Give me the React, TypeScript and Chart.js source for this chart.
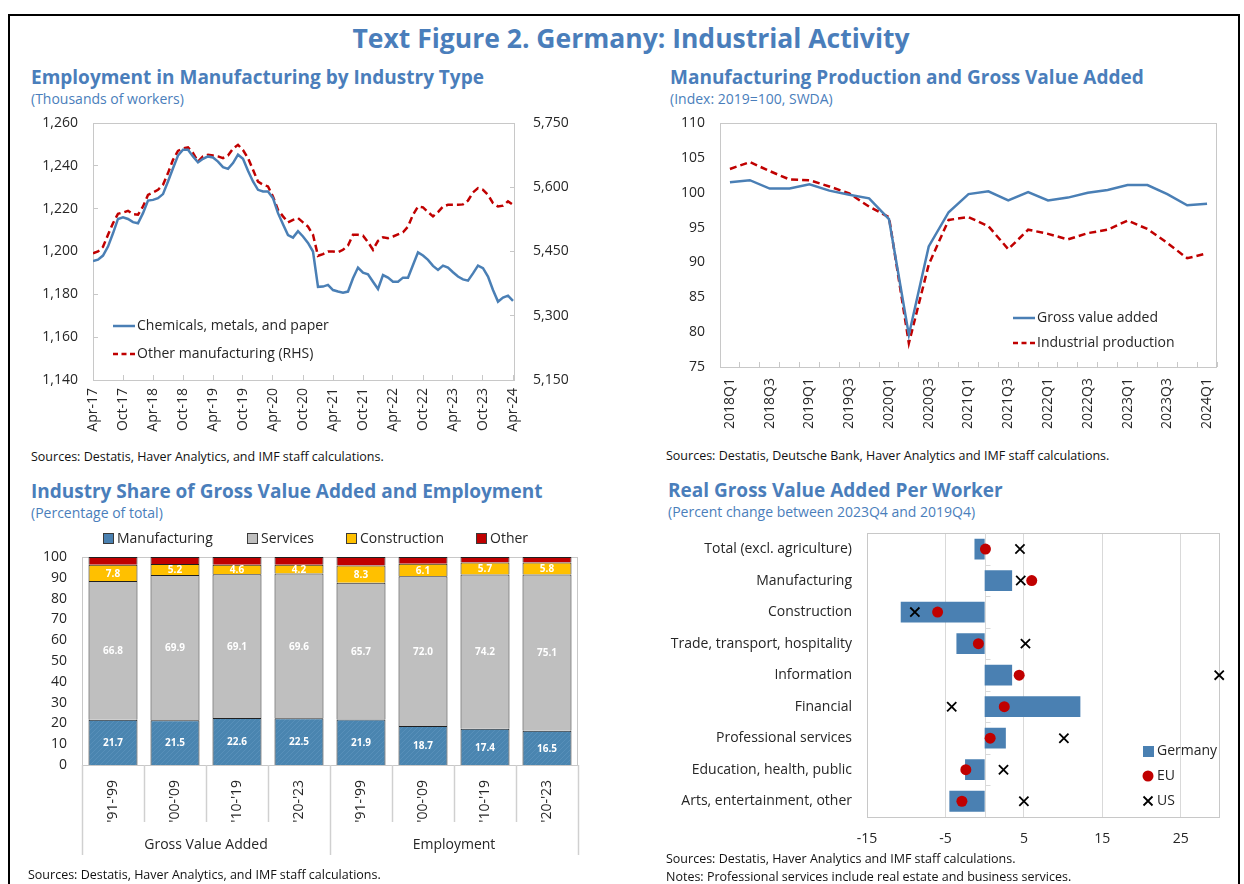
import React, { useEffect, useRef } from 'react';
import { Chart, registerables } from 'chart.js';
Chart.register(...registerables);

const FONT = "'Open Sans', 'Noto Sans', sans-serif";
const TITLE_BLUE = '#4a7ebb';
const LINE_BLUE = '#4a7fb5';
const BAR_BLUE = '#4a80b2';
const RED = '#c00000';
const TEXT = '#262626';
const FRAME = '#c8c8c8';
const GRID = '#d9d9d9';

// ---------- Panel 1: Employment in Manufacturing by Industry Type ----------
const empTickLabels = ['Apr-17', 'Oct-17', 'Apr-18', 'Oct-18', 'Apr-19', 'Oct-19', 'Apr-20', 'Oct-20', 'Apr-21', 'Oct-21', 'Apr-22', 'Oct-22', 'Apr-23', 'Oct-23', 'Apr-24'];
const chemicalsMetalsPaper = [
  1195.6, 1196.2, 1198.1, 1202.3, 1208.5, 1215.2, 1216.0, 1215.2, 1213.7, 1213.2,
  1217.9, 1223.8, 1224.1, 1224.9, 1226.8, 1232.7, 1238.9, 1244.8, 1247.5, 1247.5,
  1244.4, 1241.6, 1243.3, 1244.4, 1243.9, 1242.0, 1239.4, 1238.6, 1241.3, 1245.2,
  1243.3, 1237.7, 1232.7, 1228.8, 1228.0, 1228.0, 1224.9, 1217.9, 1212.7, 1207.7,
  1206.5, 1209.5, 1207.0, 1204.0, 1200.0, 1183.5, 1183.6, 1184.4, 1182.0, 1181.3,
  1180.8, 1181.3, 1187.5, 1192.5, 1190.1, 1189.4, 1185.9, 1182.5, 1189.0, 1187.8,
  1185.9, 1185.9, 1187.8, 1187.8, 1193.7, 1199.6, 1198.1, 1196.1, 1193.3, 1191.4,
  1193.4, 1192.5, 1190.3, 1188.3, 1187.0, 1186.4, 1189.8, 1193.4, 1192.2, 1188.3,
  1182.0, 1176.6, 1178.5, 1179.4, 1176.9,
];
const otherManufacturing = [
  5446, 5450, 5461, 5489, 5516, 5538, 5541, 5545, 5537, 5536,
  5555, 5582, 5588, 5594, 5606, 5633, 5664, 5685, 5691, 5693,
  5680, 5660, 5672, 5676, 5674, 5672, 5668, 5674, 5690, 5699,
  5687, 5668, 5641, 5613, 5606, 5602, 5578, 5547, 5532, 5518,
  5524, 5528, 5518, 5508, 5489, 5440, 5444, 5450, 5450, 5448,
  5454, 5464, 5489, 5489, 5487, 5472, 5454, 5475, 5483, 5481,
  5485, 5490, 5495, 5508, 5536, 5555, 5553, 5542, 5532, 5542,
  5555, 5559, 5559, 5559, 5560, 5569, 5588, 5598, 5594, 5582,
  5563, 5555, 5557, 5567, 5559,
];

// ---------- Panel 2: Manufacturing Production and Gross Value Added ----------
const quarters = [
  '2018Q1', '2018Q2', '2018Q3', '2018Q4', '2019Q1', '2019Q2', '2019Q3', '2019Q4',
  '2020Q1', '2020Q2', '2020Q3', '2020Q4', '2021Q1', '2021Q2', '2021Q3', '2021Q4',
  '2022Q1', '2022Q2', '2022Q3', '2022Q4', '2023Q1', '2023Q2', '2023Q3', '2023Q4', '2024Q1',
];
const grossValueAdded = [101.5, 101.8, 100.6, 100.6, 101.2, 100.3, 99.7, 99.2, 96.2, 79.6, 92.3, 97.2, 99.8, 100.2, 98.9, 100.1, 98.9, 99.3, 100.0, 100.4, 101.1, 101.1, 99.8, 98.2, 98.4];
const industrialProduction = [103.4, 104.4, 103.1, 101.9, 101.8, 100.9, 99.9, 98.0, 96.5, 78.4, 89.7, 96.1, 96.5, 95.2, 91.9, 94.7, 94.1, 93.3, 94.2, 94.7, 96.0, 94.8, 92.8, 90.6, 91.3];

// ---------- Panel 3: Industry Share of Gross Value Added and Employment ----------
const periods = ["'91-'99", "'00-'09", "'10-'19", "'20-'23", "'91-'99", "'00-'09", "'10-'19", "'20-'23"];
const groups = ['Gross Value Added', 'Employment'];
const shareManufacturing = [21.7, 21.5, 22.6, 22.5, 21.9, 18.7, 17.4, 16.5];
const shareServices = [66.8, 69.9, 69.1, 69.6, 65.7, 72.0, 74.2, 75.1];
const shareConstruction = [7.8, 5.2, 4.6, 4.2, 8.3, 6.1, 5.7, 5.8];
const shareOther = [3.7, 3.4, 3.7, 3.7, 4.1, 3.2, 2.7, 2.6];

// ---------- Panel 4: Real Gross Value Added Per Worker ----------
const sectors = [
  'Total (excl. agriculture)', 'Manufacturing', 'Construction', 'Trade, transport, hospitality',
  'Information', 'Financial', 'Professional services', 'Education, health, public', 'Arts, entertainment, other',
];
const germanyChange = [-1.3, 3.5, -10.7, -3.6, 3.5, 12.2, 2.7, -2.5, -4.5];
const euChange = [0.1, 6.0, -6.0, -0.8, 4.4, 2.5, 0.7, -2.4, -2.9];
const usChange = [4.5, 4.6, -8.9, 5.2, 29.9, -4.2, 10.1, 2.4, 5.0];
const changeTicks = [-15, -5, 5, 15, 25];

const font = (size: number, weight: string = 'normal') => ({ family: FONT, size, weight } as any);

// fix an axis' thickness and drop the automatic label overhang padding
const fixSize = (dim: 'width' | 'height', v: number) => (s: any) => {
  s[dim] = v;
  s.paddingTop = 0; s.paddingBottom = 0; s.paddingLeft = 0; s.paddingRight = 0;
};

const framePlugin = {
  id: 'frame',
  beforeDatasetsDraw(chart: any) {
    const { ctx, chartArea: a } = chart;
    ctx.save();
    ctx.strokeStyle = FRAME;
    ctx.lineWidth = 1;
    ctx.strokeRect(Math.round(a.left) + 0.5, Math.round(a.top) + 0.5, Math.round(a.right - a.left) - 1, Math.round(a.bottom - a.top));
    ctx.restore();
  },
};

function lineLegend(items: { ds: number; x: number; y: number }[]) {
  return {
    id: 'lineLegend',
    afterDraw(chart: any) {
      const ctx = chart.ctx;
      items.forEach((it) => {
        const ds = chart.data.datasets[it.ds];
        ctx.save();
        ctx.strokeStyle = ds.borderColor;
        ctx.lineWidth = 2.5;
        ctx.setLineDash(ds.borderDash ? [5, 3.5] : []);
        ctx.beginPath();
        ctx.moveTo(it.x, it.y);
        ctx.lineTo(it.x + 22, it.y);
        ctx.stroke();
        ctx.setLineDash([]);
        ctx.fillStyle = TEXT;
        ctx.font = `14px ${FONT}`;
        ctx.textBaseline = 'middle';
        ctx.fillText(ds.label, it.x + 24, it.y);
        ctx.restore();
      });
    },
  };
}

const innerGrid = { display: true, drawOnChartArea: false, drawTicks: true, tickLength: -5, color: FRAME };
const noGrid = { display: false, drawTicks: false };

function makeEmployment(): any {
  return {
    type: 'line',
    data: {
      datasets: [
        { label: 'Chemicals, metals, and paper', data: chemicalsMetalsPaper.map((v, i) => ({ x: i, y: v })), borderColor: LINE_BLUE, borderWidth: 2.5, pointRadius: 0, yAxisID: 'y' },
        { label: 'Other manufacturing (RHS)', data: otherManufacturing.map((v, i) => ({ x: i, y: v })), borderColor: RED, borderWidth: 2.5, borderDash: [7, 4], pointRadius: 0, yAxisID: 'y2' },
      ],
    },
    options: {
      responsive: false, animation: false, devicePixelRatio: 1,
      layout: { padding: { top: 13, left: 0, right: 0, bottom: 0 } },
      plugins: { legend: { display: false }, tooltip: { enabled: false } },
      scales: {
        x: {
          type: 'linear', min: 0, max: 84.4,
          afterBuildTicks: (s: any) => { s.ticks = empTickLabels.map((_, k) => ({ value: k * 6 })); },
          ticks: { callback: (_v: any, idx: number) => empTickLabels[idx], maxRotation: 90, minRotation: 90, padding: 13, font: font(14), color: TEXT, autoSkip: false },
          grid: innerGrid, border: { display: false },
          afterFit: fixSize('height', 65),
        },
        y: {
          position: 'left', min: 1140, max: 1260,
          ticks: { stepSize: 20, callback: (v: number) => v.toLocaleString('en-US'), padding: 20, font: font(14), color: TEXT },
          grid: innerGrid, border: { display: false },
          afterFit: fixSize('width', 73),
        },
        y2: {
          position: 'right', min: 5150, max: 5750,
          ticks: { stepSize: 150, callback: (v: number) => v.toLocaleString('en-US'), padding: 23, font: font(14), color: TEXT },
          grid: innerGrid, border: { display: false },
          afterFit: fixSize('width', 65),
        },
      },
    },
    plugins: [framePlugin, lineLegend([{ ds: 0, x: 93, y: 216 }, { ds: 1, x: 93, y: 244 }])],
  };
}

function makeProduction(): any {
  return {
    type: 'line',
    data: {
      labels: quarters,
      datasets: [
        { label: 'Gross value added', data: grossValueAdded, borderColor: LINE_BLUE, borderWidth: 2.5, pointRadius: 0 },
        { label: 'Industrial production', data: industrialProduction, borderColor: RED, borderWidth: 2.5, borderDash: [7, 4], pointRadius: 0 },
      ],
    },
    options: {
      responsive: false, animation: false, devicePixelRatio: 1,
      layout: { padding: { top: 13, left: 0, right: 18, bottom: 0 } },
      plugins: { legend: { display: false }, tooltip: { enabled: false } },
      scales: {
        x: {
          type: 'category', offset: true,
          ticks: { callback: (_v: any, idx: number) => (idx % 2 === 0 ? quarters[idx] : ''), maxRotation: 90, minRotation: 90, padding: 16, font: font(14), color: TEXT, autoSkip: false },
          grid: { ...innerGrid, offset: true }, border: { display: false },
          afterFit: fixSize('height', 78),
        },
        y: {
          min: 75, max: 110,
          ticks: { stepSize: 5, padding: 15, font: font(14), color: TEXT },
          grid: noGrid, border: { display: false },
          afterFit: fixSize('width', 60),
        },
      },
    },
    plugins: [framePlugin, lineLegend([{ ds: 0, x: 353, y: 208 }, { ds: 1, x: 353, y: 233 }])],
  };
}

function hatchPattern(base: string, line: string) {
  const c = document.createElement('canvas');
  c.width = 5; c.height = 5;
  const g = c.getContext('2d')!;
  g.fillStyle = base; g.fillRect(0, 0, 5, 5);
  g.strokeStyle = line; g.lineWidth = 0.8;
  g.beginPath(); g.moveTo(0, 5); g.lineTo(5, 0); g.stroke();
  return g.createPattern(c, 'repeat');
}

function makeShares(): any {
  const pattern = hatchPattern('#4a85b0', '#5a92bb');
  const boxLegend = {
    id: 'boxLegend',
    afterDraw(chart: any) {
      const ctx = chart.ctx;
      const xs = [83, 227, 326, 456];
      const fills = ['#4a80b0', '#bfbfbf', '#ffc000', '#c00000'];
      chart.data.datasets.forEach((ds: any, i: number) => {
        ctx.save();
        ctx.fillStyle = fills[i];
        ctx.fillRect(xs[i], 8, 11, 11);
        ctx.strokeStyle = '#3a3a3a'; ctx.lineWidth = 1;
        ctx.strokeRect(xs[i] + 0.5, 8.5, 10, 10);
        ctx.fillStyle = TEXT; ctx.font = `14px ${FONT}`; ctx.textBaseline = 'middle';
        ctx.fillText(ds.label, xs[i] + 14, 14);
        ctx.restore();
      });
    },
  };
  const barLabels = {
    id: 'barLabels',
    afterDatasetsDraw(chart: any) {
      const ctx = chart.ctx;
      ctx.save();
      ctx.fillStyle = '#ffffff'; ctx.font = `bold 10px ${FONT}`; ctx.textAlign = 'center'; ctx.textBaseline = 'middle';
      [0, 1, 2].forEach((di) => {
        const meta = chart.getDatasetMeta(di);
        meta.data.forEach((el: any, i: number) => {
          const v = chart.data.datasets[di].data[i];
          ctx.fillText(v.toFixed(1), el.x, (el.y + el.base) / 2 + 1);
        });
      });
      ctx.restore();
    },
  };
  const groupAxis = {
    id: 'groupAxis',
    afterDraw(chart: any) {
      const { ctx, chartArea: a } = chart;
      const n = periods.length;
      const w = (a.right - a.left) / n;
      ctx.save();
      ctx.strokeStyle = '#d0d0d0'; ctx.lineWidth = 1.5;
      for (let k = 0; k <= n; k++) {
        const px = Math.round(a.left + k * w) + 0.5;
        ctx.beginPath();
        ctx.moveTo(px, a.bottom);
        ctx.lineTo(px, a.bottom + (k % 4 === 0 ? 90 : 57));
        ctx.stroke();
      }
      ctx.fillStyle = TEXT; ctx.font = `14px ${FONT}`; ctx.textAlign = 'center'; ctx.textBaseline = 'middle';
      groups.forEach((g, gi) => {
        ctx.fillText(g, a.left + (gi * 4 + 2) * w, a.bottom + 80);
      });
      ctx.restore();
    },
  };
  const common = { borderColor: '#1f1f1f', borderWidth: 1, barPercentage: 0.79, categoryPercentage: 1 };
  return {
    type: 'bar',
    data: {
      labels: periods,
      datasets: [
        { label: 'Manufacturing', data: shareManufacturing, backgroundColor: pattern, ...common },
        { label: 'Services', data: shareServices, backgroundColor: '#bfbfbf', ...common },
        { label: 'Construction', data: shareConstruction, backgroundColor: '#ffc000', ...common },
        { label: 'Other', data: shareOther, backgroundColor: '#c00000', ...common },
      ],
    },
    options: {
      responsive: false, animation: false, devicePixelRatio: 1,
      layout: { padding: { top: 32, left: 0, right: 22, bottom: 0 } },
      plugins: { legend: { display: false }, tooltip: { enabled: false } },
      scales: {
        x: {
          stacked: true,
          ticks: { maxRotation: 90, minRotation: 90, padding: 15, font: font(14), color: TEXT, autoSkip: false },
          grid: noGrid, border: { display: false },
          afterFit: fixSize('height', 110),
        },
        y: {
          stacked: true, min: 0, max: 100,
          ticks: { stepSize: 10, padding: 15, font: font(14), color: TEXT },
          grid: noGrid, border: { display: false },
          afterFit: fixSize('width', 62),
        },
      },
    },
    plugins: [framePlugin, barLabels, groupAxis, boxLegend],
  };
}

function makePerWorker(): any {
  const zeroAxis = {
    id: 'zeroAxis',
    beforeDatasetsDraw(chart: any) {
      const { ctx, chartArea: a, scales } = chart;
      const x0 = Math.round(scales.x.getPixelForValue(0)) + 0.5;
      const n = sectors.length;
      const h = (a.bottom - a.top) / n;
      ctx.save();
      ctx.strokeStyle = GRID; ctx.lineWidth = 1;
      ctx.beginPath(); ctx.moveTo(x0, a.top); ctx.lineTo(x0, a.bottom); ctx.stroke();
      for (let k = 1; k < n; k++) {
        const py = Math.round(a.top + k * h) + 0.5;
        ctx.beginPath(); ctx.moveTo(x0, py); ctx.lineTo(x0 + 5, py); ctx.stroke();
      }
      ctx.restore();
    },
  };
  const legend = {
    id: 'markLegend',
    afterDraw(chart: any) {
      const ctx = chart.ctx;
      const ds = chart.data.datasets;
      ctx.save();
      ctx.fillStyle = BAR_BLUE; ctx.fillRect(483, 221, 11, 11);
      ctx.fillStyle = RED; ctx.beginPath(); ctx.arc(488, 251, 5.5, 0, Math.PI * 2); ctx.fill();
      ctx.strokeStyle = '#000'; ctx.lineWidth = 1.8;
      ctx.beginPath(); ctx.moveTo(483.5, 271.5); ctx.lineTo(492.5, 280.5); ctx.moveTo(492.5, 271.5); ctx.lineTo(483.5, 280.5); ctx.stroke();
      ctx.fillStyle = TEXT; ctx.font = `14px ${FONT}`; ctx.textBaseline = 'middle';
      ctx.fillText(ds[0].label, 497, 226);
      ctx.fillText(ds[1].label, 497, 251);
      ctx.fillText(ds[2].label, 497, 276);
      ctx.restore();
    },
  };
  return {
    type: 'bar',
    data: {
      labels: sectors,
      datasets: [
        { label: 'Germany', data: germanyChange, backgroundColor: BAR_BLUE, barPercentage: 0.66, categoryPercentage: 1, indexAxis: 'y', order: 3 },
        { type: 'line', label: 'EU', data: euChange, showLine: false, indexAxis: 'y', pointStyle: 'circle', pointRadius: 5.5, backgroundColor: RED, borderColor: RED, borderWidth: 0, order: 2, clip: false },
        { type: 'line', label: 'US', data: usChange, showLine: false, indexAxis: 'y', pointStyle: 'crossRot', pointRadius: 6.5, borderColor: '#000', backgroundColor: '#000', borderWidth: 1.8, order: 1, clip: false },
      ],
    },
    options: {
      indexAxis: 'y',
      responsive: false, animation: false, devicePixelRatio: 1,
      layout: { padding: { top: 6, left: 0, right: 20, bottom: 0 } },
      plugins: { legend: { display: false }, tooltip: { enabled: false } },
      scales: {
        x: {
          type: 'linear', min: -15, max: 30,
          afterBuildTicks: (s: any) => { s.ticks = changeTicks.map((v) => ({ value: v })); },
          ticks: { padding: 14, font: font(14), color: TEXT },
          grid: { drawTicks: false, color: (c: any) => (c.tick && c.tick.value === -15 ? 'rgba(0,0,0,0)' : GRID) },
          border: { display: false },
          afterFit: fixSize('height', 38),
        },
        y: {
          type: 'category',
          ticks: { padding: 15, font: font(14), color: TEXT, autoSkip: false },
          grid: noGrid, border: { display: false },
          afterFit: fixSize('width', 207),
        },
      },
    },
    plugins: [framePlugin, zeroAxis, legend],
  };
}

function ChartBox({ make, left, top, width, height }: { make: () => any; left: number; top: number; width: number; height: number }) {
  const ref = useRef<HTMLCanvasElement>(null);
  useEffect(() => {
    const chart = new Chart(ref.current as HTMLCanvasElement, make());
    return () => chart.destroy();
  }, []);
  return <canvas ref={ref} width={width} height={height} style={{ position: 'absolute', left, top, width, height }} />;
}

function Txt({ left, top, size, bold, color, children }: any) {
  return (
    <div style={{ position: 'absolute', left, top, fontSize: size, lineHeight: `${Math.round(size * 1.3)}px`, fontWeight: bold ? 700 : 400, color, whiteSpace: 'nowrap', fontFamily: FONT }}>
      {children}
    </div>
  );
}

export default function App() {
  return (
    <div style={{ position: 'absolute', left: 0, top: 0, width: 1244, height: 884, overflow: 'hidden', background: '#fff', fontFamily: FONT }}>
      <div style={{ position: 'absolute', left: 8, top: 14, width: 1228, height: 900, border: '2px solid #000' }} />
      <div style={{ position: 'absolute', left: 0, top: 21, width: 1262, textAlign: 'center', fontSize: 26.5, lineHeight: '34px', fontWeight: 700, color: TITLE_BLUE, fontFamily: FONT }}>
        Text Figure 2. Germany: Industrial Activity
      </div>

      <Txt left={31} top={65} size={19} bold color={TITLE_BLUE}>Employment in Manufacturing by Industry Type</Txt>
      <Txt left={31} top={90} size={14} color={TITLE_BLUE}>(Thousands of workers)</Txt>
      <Txt left={670} top={65} size={19} bold color={TITLE_BLUE}>Manufacturing Production and Gross Value Added</Txt>
      <Txt left={670} top={90} size={14} color={TITLE_BLUE}>(Index: 2019=100, SWDA)</Txt>

      <ChartBox make={makeEmployment} left={20} top={110} width={560} height={335} />
      <ChartBox make={makeProduction} left={660} top={110} width={575} height={335} />

      <Txt left={31} top={449} size={12.5} color="#111">Sources: Destatis, Haver Analytics, and IMF staff calculations.</Txt>
      <Txt left={666} top={448} size={12.5} color="#111">Sources: Destatis, Deutsche Bank, Haver Analytics and IMF staff calculations.</Txt>

      <Txt left={31} top={479} size={19} bold color={TITLE_BLUE}>Industry Share of Gross Value Added and Employment</Txt>
      <Txt left={31} top={504} size={14} color={TITLE_BLUE}>(Percentage of total)</Txt>
      <Txt left={668} top={478} size={19} bold color={TITLE_BLUE}>Real Gross Value Added Per Worker</Txt>
      <Txt left={668} top={503} size={14} color={TITLE_BLUE}>(Percent change between 2023Q4 and 2019Q4)</Txt>

      <ChartBox make={makeShares} left={20} top={525} width={580} height={350} />
      <ChartBox make={makePerWorker} left={660} top={525} width={580} height={330} />

      <Txt left={28} top={867} size={12.5} color="#111">Sources: Destatis, Haver Analytics, and IMF staff calculations.</Txt>
      <Txt left={666} top={851} size={12.5} color="#111">Sources: Destatis, Haver Analytics and IMF staff calculations.</Txt>
      <Txt left={666} top={869} size={12.5} color="#111">Notes: Professional services include real estate and business services.</Txt>
    </div>
  );
}
